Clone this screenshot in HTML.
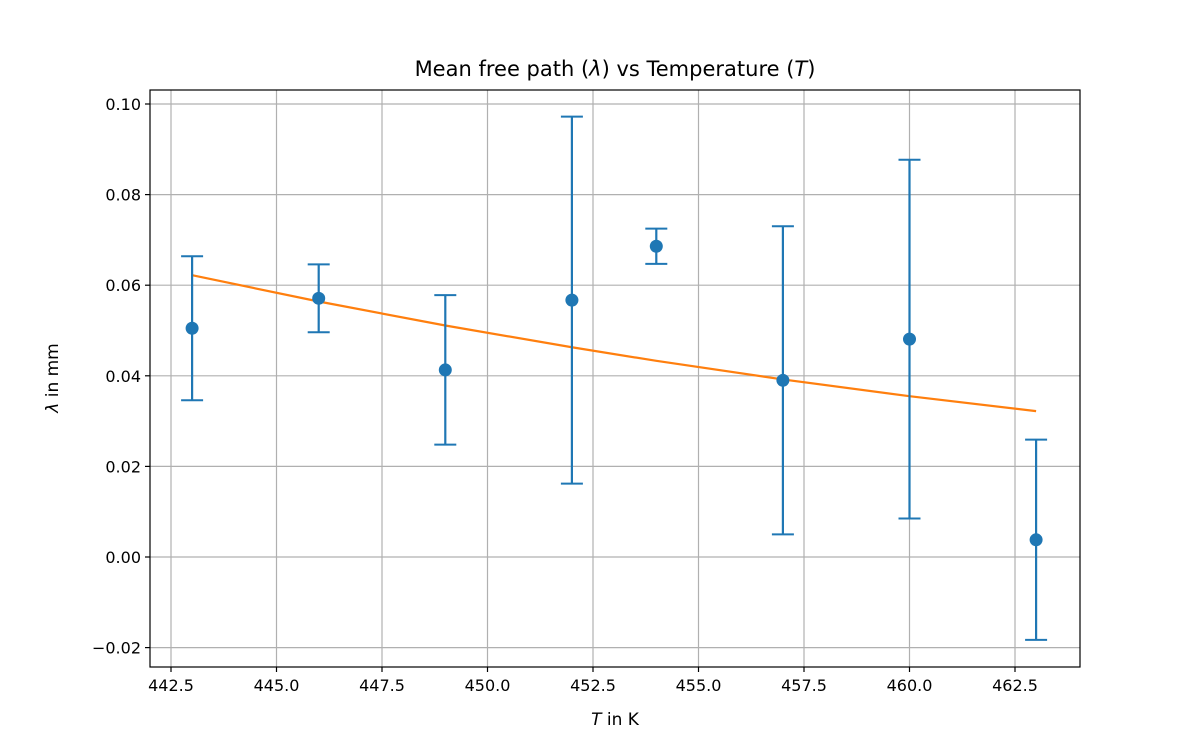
<!DOCTYPE html>
<html><head><meta charset="utf-8"><style>
body{margin:0;background:#fff;}
svg text{font-family:"DejaVu Sans","Liberation Sans",sans-serif;fill:#000;}
</style></head><body>
<svg id="chart" width="1200" height="750" xmlns="http://www.w3.org/2000/svg">
<rect width="1200" height="750" fill="#fff"/>
<g id="grid"></g>
<g id="fit"></g>
<g id="data"></g>
<rect x="150" y="90" width="930" height="577" fill="none" stroke="#000" stroke-width="1.2"/>
<g id="ticks"></g>
<text x="615" y="76" font-size="21" text-anchor="middle">Mean free path (<tspan font-style="italic">λ</tspan>) vs Temperature (<tspan font-style="italic">T</tspan>)</text>
<text x="615" y="725" font-size="17" text-anchor="middle"><tspan font-style="italic">T</tspan> in K</text>
<text transform="translate(58,378) rotate(-90)" font-size="17" text-anchor="middle"><tspan font-style="italic">λ</tspan> in mm</text>
</svg>
<script>
const temps=[443,446,449,452,454,457,460,463];
const lambdas=[0.0505,0.0571,0.0413,0.0567,0.0686,0.0390,0.0481,0.0038];
const errors=[0.0159,0.0075,0.0165,0.0405,0.0039,0.0340,0.0396,0.0221];
const fitValues=[0.0622,0.0564,0.0511,0.0463,0.0433,0.0392,0.0355,0.0322];
const xTicks=[442.5,445.0,447.5,450.0,452.5,455.0,457.5,460.0,462.5];
const yTicks=[-0.02,0.00,0.02,0.04,0.06,0.08,0.10];
const NS="http://www.w3.org/2000/svg";
function xs(v){return 171+(v-442.5)*(1015-171)/20;}
function ys(v){return 557-v*(557-104)/0.1;}
function mk(tag,attrs,parent){const e=document.createElementNS(NS,tag);for(const k in attrs)e.setAttribute(k,attrs[k]);parent.appendChild(e);return e;}
const grid=document.getElementById('grid'),ticks=document.getElementById('ticks');
xTicks.forEach(t=>{const x=xs(t);
 const g=mk('line',{x1:x,x2:x,y1:90,y2:667,stroke:'#b0b0b0','stroke-width':1.2},grid);
 
 
 const tk=mk('line',{x1:x,x2:x,y1:667,y2:672,stroke:'#000','stroke-width':1.2},ticks);
 
 
 const lb=mk('text',{x:x,y:691,'font-size':16,'text-anchor':'middle'},ticks);lb.textContent=t.toFixed(1);
 
 
});
yTicks.forEach(t=>{const y=ys(t);
 const g=mk('line',{x1:150,x2:1080,y1:y,y2:y,stroke:'#b0b0b0','stroke-width':1.2},grid);
 
 
 const tk=mk('line',{x1:145,x2:150,y1:y,y2:y,stroke:'#000','stroke-width':1.2},ticks);
 
 
 const lb=mk('text',{x:141,y:y+6,'font-size':16,'text-anchor':'end'},ticks);lb.textContent=(t<0?'\u2212':'')+Math.abs(t).toFixed(2);
 
 
});
const fit=document.getElementById('fit');
const pl=mk('polyline',{points:temps.map((t,i)=>xs(t)+','+ys(fitValues[i])).join(' '),fill:'none',stroke:'#ff7f0e','stroke-width':2.2},fit);


const data=document.getElementById('data');
temps.forEach((t,i)=>{const x=xs(t),y=ys(lambdas[i]),yt=ys(lambdas[i]+errors[i]),yb=ys(lambdas[i]-errors[i]);
 const g=mk('g',{},data);
 
 
 mk('line',{x1:x,x2:x,y1:yt,y2:yb,stroke:'#1f77b4','stroke-width':2.2},g);
 mk('line',{x1:x-11,x2:x+11,y1:yt,y2:yt,stroke:'#1f77b4','stroke-width':2},g);
 mk('line',{x1:x-11,x2:x+11,y1:yb,y2:yb,stroke:'#1f77b4','stroke-width':2},g);
 mk('circle',{cx:x,cy:y,r:6.5,fill:'#1f77b4'},g);
});
</script>
</body></html>
